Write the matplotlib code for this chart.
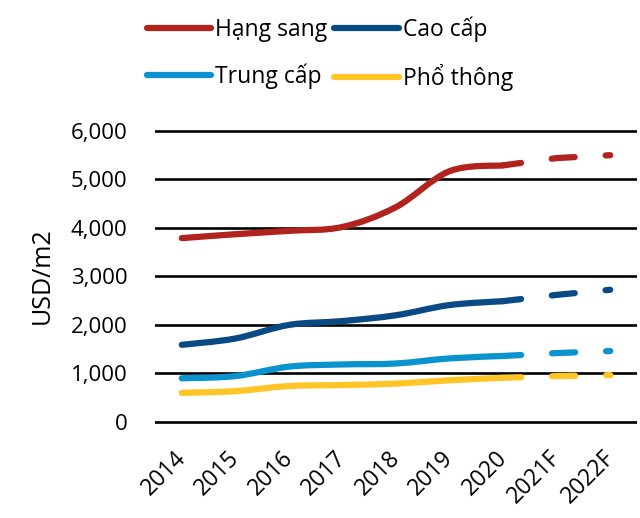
import matplotlib
matplotlib.use("Agg")
import matplotlib.pyplot as plt
from matplotlib.path import Path
from matplotlib.patches import PathPatch
from matplotlib.lines import Line2D
from matplotlib.transforms import ScaledTranslation

plt.rcParams['font.family'] = ['Open Sans', 'DejaVu Sans']
plt.rcParams['lines.scale_dashes'] = False

# dữ liệu (USD/m2)
years = ['2014', '2015', '2016', '2017', '2018', '2019', '2020', '2021F', '2022F']
hang_sang = [3790, 3870, 3940, 4020, 4430, 5170, 5290, 5440, 5500]
cao_cap = [1590, 1720, 2000, 2080, 2200, 2410, 2490, 2620, 2725]
trung_cap = [900, 945, 1140, 1185, 1205, 1310, 1360, 1420, 1462]
pho_thong = [600, 635, 740, 760, 790, 860, 910, 945, 965]

labels = ['Hạng sang', 'Cao cấp', 'Trung cấp', 'Phổ thông']
colors = ['#B2231D', '#0A4A84', '#0A93CF', '#FFC425']
n_actual = 7  # 2014-2020 là số liệu thực, còn lại là dự báo


def smooth_path(xs, ys, t=1 / 6):
    # đường cong mượt kiểu Excel (Catmull-Rom -> Bezier)
    n = len(xs)
    verts = [(xs[0], ys[0])]
    codes = [Path.MOVETO]
    for i in range(n - 1):
        a = max(i - 1, 0)
        b = min(i + 2, n - 1)
        c1 = (xs[i] + (xs[i + 1] - xs[a]) * t, ys[i] + (ys[i + 1] - ys[a]) * t)
        c2 = (xs[i + 1] - (xs[b] - xs[i]) * t, ys[i + 1] - (ys[b] - ys[i]) * t)
        verts += [c1, c2, (xs[i + 1], ys[i + 1])]
        codes += [Path.CURVE4] * 3
    return Path(verts, codes)


fig = plt.figure(figsize=(6.4, 5.18), dpi=100)
ax = fig.add_axes([0.2422, 0.1817, 0.7531, 0.5693])

x = list(range(len(years)))
lw = 4.5
handles = []
for series, color, label in zip([hang_sang, cao_cap, trung_cap, pho_thong], colors, labels):
    p = smooth_path(x[:n_actual], series[:n_actual])
    ax.add_patch(PathPatch(p, fill=False, edgecolor=color, linewidth=lw,
                           capstyle='round', joinstyle='round', zorder=3))
    ax.plot(x[n_actual - 1:], series[n_actual - 1:], color=color, linewidth=lw,
            linestyle=(3.6, (16.6, 22.3)), dash_capstyle='round', zorder=3)
    handles.append(Line2D([], [], color=color, linewidth=lw, solid_capstyle='round'))

ax.set_xlim(-0.5, len(years) - 0.5)
ax.set_ylim(-40, 6040)
yt = [0, 1000, 2000, 3000, 4000, 5000, 6000]
ax.set_yticks(yt, [f'{v:,}' for v in yt])
ax.set_xticks(x, years, rotation=45, ha='right', rotation_mode='anchor')
ax.tick_params(axis='y', length=0, pad=20, labelsize=16)
ax.tick_params(axis='x', length=0, pad=16, labelsize=16.5)
shift = ScaledTranslation(-0.08, 0, fig.dpi_scale_trans)
for lbl in ax.get_xticklabels():
    lbl.set_transform(lbl.get_transform() + shift)
ax.grid(axis='y', color='black', linewidth=1.9)
ax.set_axisbelow(True)
for s in ax.spines.values():
    s.set_visible(False)

fig.text(42 / 640, 1 - 276 / 518, 'USD/m2', rotation=90, ha='center', va='center', fontsize=18)

# legend xếp theo hàng: cột 1 = Hạng sang, Trung cấp; cột 2 = Cao cấp, Phổ thông
order = [0, 2, 1, 3]
fig.legend([handles[i] for i in order], [labels[i] for i in order], ncol=2,
           loc='upper left', bbox_to_anchor=(0.229, 0.968),
           frameon=False, fontsize=16.5, handlelength=2.8, handletextpad=0.2,
           columnspacing=0.3, labelspacing=0.95, borderpad=0, borderaxespad=0)

fig.savefig('out.png', dpi=100)
